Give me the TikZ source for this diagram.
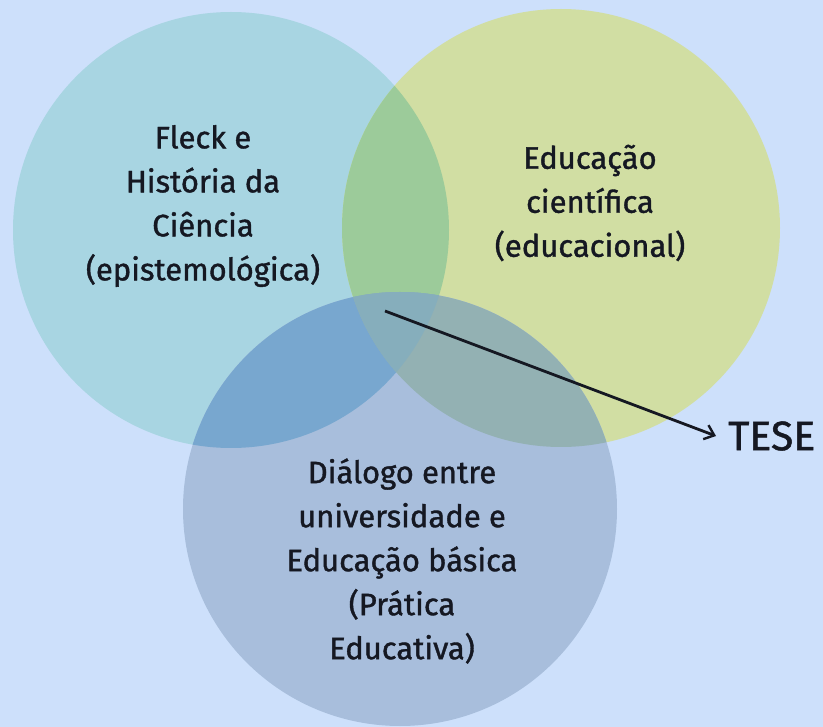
\documentclass[tikz,border=0pt]{standalone}
\usepackage{fontspec}
\setmainfont{Fira Sans}
\newfontfamily\handfont{Fira Sans}[FakeBold=1.2]
\usetikzlibrary{arrows.meta}
\definecolor{bgc}{HTML}{CDE0FB}
\definecolor{cA}{HTML}{A8D5E2}
\definecolor{cB}{HTML}{D1DEA3}
\definecolor{cC}{HTML}{A8BEDC}
\definecolor{cAB}{HTML}{9CCB9A}
\definecolor{cAC}{HTML}{78A7CF}
\definecolor{cBC}{HTML}{93B1B3}
\definecolor{cABC}{HTML}{86AEBC}
\definecolor{ink}{HTML}{151822}
\tikzset{
  lbl/.style={text=ink, align=center, inner sep=0pt, font=\handfont\fontsize{31}{44}\selectfont},
  bigl/.style={text=ink, font=\handfont\fontsize{41}{44}\selectfont},
  conn/.style={draw=ink, line width=2.8pt, -{Straight Barb[length=9pt,width=15pt,line width=2.4pt]}}
}
\begin{document}
\begin{tikzpicture}[x=1pt,y=-1pt]
\fill[bgc] (0,0) rectangle (823,727);
\useasboundingbox (0,0) rectangle (823,727);
\def\cirA{(231,230) circle (218pt)}
\def\cirB{(561,228) circle (219pt)}
\def\cirC{(400,509) circle (217pt)}
\fill[cA] \cirA;
\fill[cB] \cirB;
\fill[cC] \cirC;
\begin{scope}\clip \cirA; \fill[cAB] \cirB;\end{scope}
\begin{scope}\clip \cirA; \fill[cAC] \cirC;\end{scope}
\begin{scope}\clip \cirB; \fill[cBC] \cirC;\end{scope}
\begin{scope}\clip \cirA; \clip \cirB; \fill[cABC] \cirC;\end{scope}
\node[lbl] (fleck) at (203,206) {Fleck e\\História da\\Ciência\\(epistemológica)};
\node[lbl] (educ) at (590,203) {Educação\\científica\\(educacional)};
\node[lbl] (dial) at (402,561) {Diálogo entre\\universidade e\\Educação básica\\(Prática\\Educativa)};
\node[bigl, anchor=west, inner sep=0pt] (tese) at (728,436) {TESE};
\coordinate (start) at (385,311);
\draw[conn] (start) -- ([xshift=-12pt]tese.west);
\end{tikzpicture}
\end{document}
